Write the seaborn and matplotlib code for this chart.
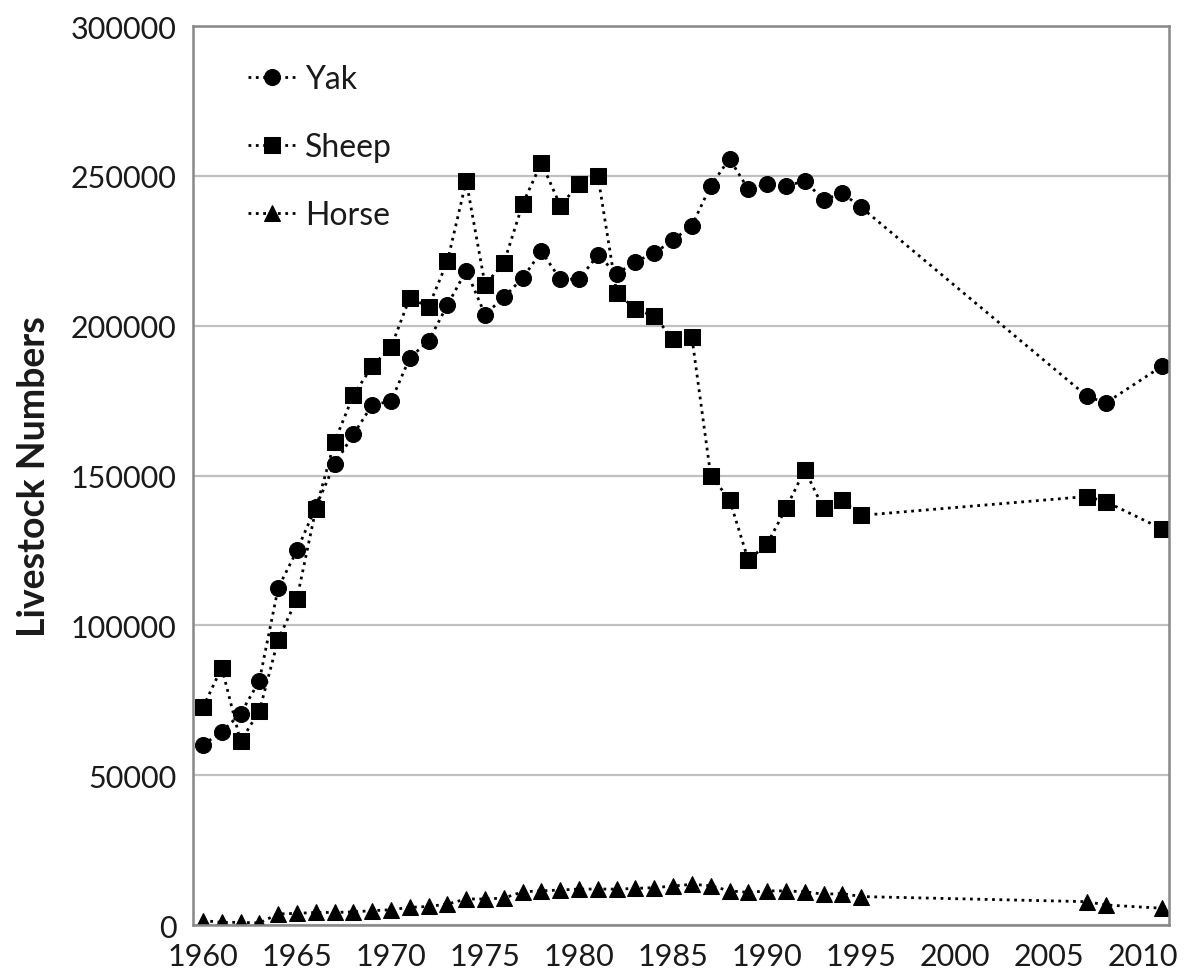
import pandas as pd
import matplotlib
matplotlib.use("Agg")
import matplotlib.pyplot as plt
import seaborn as sns

# Data
years = list(range(1960, 1996)) + [2007, 2008, 2011]

yak = [60100, 64500, 70500, 81500, 112500, 125000, 139500, 153800, 163700, 173600,
       174800, 189300, 194900, 206900, 218400, 203700, 209500, 215900, 224800, 215500,
       215500, 223600, 217300, 221400, 224200, 228600, 233400, 246700, 255700, 245500,
       247300, 246600, 248300, 242000, 244200, 239500,
       176500, 174200, 186500]

sheep = [72600, 85900, 61300, 71400, 95200, 108900, 138700, 161300, 176800, 186500,
         192800, 209300, 206300, 221500, 248300, 213700, 220900, 240600, 254400, 240100,
         247200, 250000, 210900, 205600, 203100, 195600, 196100, 150000, 142000, 121700,
         127200, 139000, 151900, 139000, 141700, 136700,
         143000, 141300, 132200]

horse = [1500, 900, 900, 700, 3700, 3900, 4200, 4200, 4400, 4800,
         5100, 5900, 6200, 7000, 8700, 8700, 9000, 11100, 11400, 11700,
         12000, 12000, 12000, 12200, 12500, 13000, 13600, 13100, 11400, 10900,
         11400, 11400, 11100, 10300, 10500, 9500,
         7800, 6700, 5600]

series = {"Yak": yak, "Sheep": sheep, "Horse": horse}
markers = {"Yak": "o", "Sheep": "s", "Horse": "^"}

df = pd.DataFrame({"Year": years, **series})

sns.set_style("white")
plt.rcParams["font.family"] = ["Lato", "DejaVu Sans"]

fig = plt.figure(figsize=(11.86, 9.79), dpi=100)
ax = fig.add_axes([0.1627, 0.0541, 0.823, 0.9183])

for name in series:
    sns.lineplot(data=df, x="Year", y=name, ax=ax, color="black",
                 linestyle=":", linewidth=2.0, marker=markers[name],
                 markersize=11.5, markeredgecolor="black", label=name)

ax.set_xlim(1959.47, 2011.37)
ax.set_ylim(0, 300000)
ax.set_xticks(range(1960, 2011, 5))
ax.set_yticks(range(0, 300001, 50000))
ax.tick_params(axis="both", length=0, labelsize=22, labelcolor="#1a1a1a")
ax.tick_params(axis="x", pad=12)
ax.tick_params(axis="y", pad=12)

ax.yaxis.grid(True, color="#c0c0c0", linewidth=1.6)
ax.set_axisbelow(True)
for sp in ax.spines.values():
    sp.set_visible(True)
    sp.set_color("#888888")
    sp.set_linewidth(1.8)

ax.set_xlabel("")
ax.set_ylabel("Livestock Numbers", fontsize=27, fontweight="bold", labelpad=14,
              color="#1a1a1a")

leg = ax.legend(loc="upper left", bbox_to_anchor=(0.056, 0.958), frameon=False,
                fontsize=23, handlelength=1.5, labelspacing=1.2, handletextpad=0.3,
                borderpad=0, borderaxespad=0)
for t in leg.get_texts():
    t.set_color("#1a1a1a")

fig.savefig("out.png", dpi=100)
